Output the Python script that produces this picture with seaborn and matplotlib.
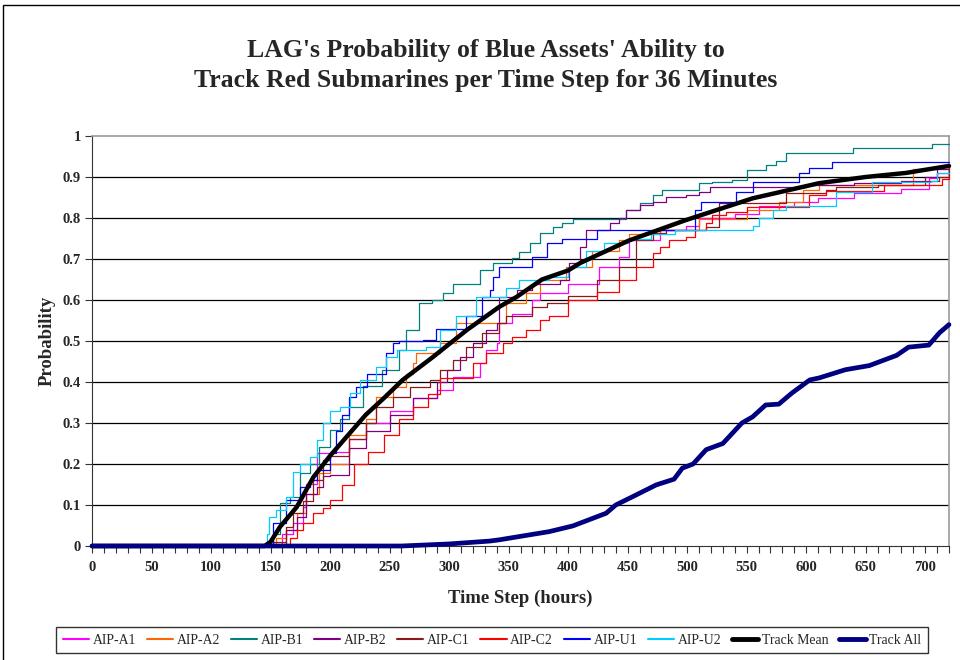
import matplotlib
matplotlib.use("Agg")
import matplotlib.pyplot as plt
from matplotlib.lines import Line2D
from matplotlib.patches import Rectangle
from matplotlib.ticker import MultipleLocator, FuncFormatter
import seaborn as sns
import pandas as pd

# ---- cumulative track probability per asset type (time step in hours) ----
a1_x = [0, 150, 160, 169, 177, 180, 189, 200, 216, 230, 250, 270, 290, 303, 326, 331, 340, 342, 353, 370,
        376, 400, 426, 443, 451, 477, 499, 510, 540, 560, 590, 610, 640, 680, 703, 710, 720]
a1_y = [0, 0, 0.03, 0.055, 0.095, 0.152, 0.226, 0.23, 0.26, 0.30, 0.33, 0.36, 0.38, 0.413, 0.446, 0.478, 0.495,
        0.543, 0.567, 0.60, 0.617, 0.64, 0.68, 0.705, 0.746, 0.771, 0.78, 0.80, 0.81, 0.83, 0.84, 0.85, 0.86,
        0.87, 0.897, 0.909, 0.909]

a2_x = [0, 152, 155, 163, 172, 180, 191, 200, 216, 230, 239, 253, 264, 270, 272, 292, 306, 342, 348, 365,
        376, 398, 420, 443, 451, 477, 510, 550, 577, 597, 611, 690, 720]
a2_y = [0, 0, 0.02, 0.04, 0.08, 0.128, 0.177, 0.2, 0.27, 0.31, 0.364, 0.389, 0.42, 0.446, 0.47, 0.495, 0.543,
        0.543, 0.592, 0.617, 0.649, 0.681, 0.72, 0.746, 0.76, 0.771, 0.797, 0.82, 0.839, 0.868, 0.88, 0.919,
        0.919]

b1_x = [0, 148, 152, 158, 166, 175, 183, 191, 200, 208, 216, 228, 244, 258, 264, 275, 286, 295, 303, 320,
        326, 337, 353, 359, 368, 376, 387, 395, 404, 443, 449, 460, 471, 479, 504, 510, 521, 538, 550, 566,
        575, 583, 639, 706, 720]
b1_y = [0, 0, 0.03, 0.105, 0.12, 0.177, 0.2, 0.242, 0.283, 0.31, 0.34, 0.39, 0.43, 0.478, 0.527, 0.592, 0.6,
        0.617, 0.64, 0.64, 0.673, 0.69, 0.703, 0.718, 0.738, 0.763, 0.778, 0.787, 0.797, 0.797, 0.819, 0.836,
        0.856, 0.868, 0.868, 0.885, 0.888, 0.893, 0.917, 0.929, 0.94, 0.958, 0.97, 0.98, 0.98]

b2_x = [0, 150, 163, 172, 180, 189, 194, 200, 216, 230, 250, 270, 290, 298, 309, 320, 331, 340, 342, 357,
        370, 393, 401, 410, 415, 435, 443, 449, 460, 471, 482, 499, 510, 519, 600, 640, 680, 700, 710, 720]
b2_y = [0, 0, 0.04, 0.07, 0.128, 0.145, 0.17, 0.173, 0.24, 0.28, 0.32, 0.36, 0.40, 0.43, 0.462, 0.495, 0.527,
        0.543, 0.608, 0.624, 0.64, 0.649, 0.69, 0.73, 0.771, 0.787, 0.8, 0.82, 0.832, 0.839, 0.852, 0.856,
        0.863, 0.876, 0.88, 0.885, 0.89, 0.9, 0.92, 0.93]

c1_x = [0, 150, 152, 163, 169, 177, 186, 194, 200, 216, 230, 239, 253, 267, 284, 292, 303, 314, 328, 342,
        348, 370, 382, 400, 424, 443, 457, 471, 482, 516, 527, 583, 617, 625, 660, 700, 712, 720]
c1_y = [0, 0, 0.01, 0.047, 0.08, 0.11, 0.16, 0.21, 0.22, 0.26, 0.30, 0.34, 0.364, 0.389, 0.405, 0.43, 0.454,
        0.486, 0.519, 0.543, 0.56, 0.583, 0.592, 0.61, 0.649, 0.681, 0.746, 0.763, 0.771, 0.779, 0.836, 0.86,
        0.868, 0.876, 0.88, 0.89, 0.9, 0.92]

c2_x = [0, 155, 166, 172, 177, 186, 194, 200, 210, 220, 232, 245, 258, 270, 282, 292, 314, 320, 331, 345,
        353, 365, 376, 384, 400, 424, 443, 457, 471, 477, 485, 499, 507, 516, 521, 533, 550, 602, 617, 665,
        714, 720]
c2_y = [0, 0, 0.02, 0.04, 0.055, 0.08, 0.092, 0.112, 0.15, 0.20, 0.23, 0.27, 0.31, 0.34, 0.37, 0.41, 0.41,
        0.446, 0.47, 0.495, 0.51, 0.527, 0.551, 0.56, 0.60, 0.62, 0.65, 0.68, 0.714, 0.73, 0.746, 0.754, 0.771,
        0.787, 0.807, 0.815, 0.827, 0.856, 0.867, 0.88, 0.895, 0.9]

u1_x = [0, 145, 152, 163, 175, 183, 189, 200, 205, 210, 216, 222, 231, 247, 253, 258, 278, 289, 300, 314,
        328, 334, 337, 342, 365, 370, 382, 395, 424, 504, 507, 512, 527, 541, 555, 580, 594, 602, 622, 720]
u1_y = [0, 0, 0.056, 0.112, 0.145, 0.16, 0.185, 0.226, 0.28, 0.32, 0.364, 0.389, 0.42, 0.47, 0.495, 0.5,
        0.502, 0.53, 0.53, 0.56, 0.608, 0.624, 0.657, 0.68, 0.68, 0.705, 0.738, 0.75, 0.771, 0.771, 0.819,
        0.838, 0.838, 0.863, 0.888, 0.888, 0.909, 0.922, 0.937, 0.937]

u2_x = [0, 145, 147, 149, 155, 163, 169, 175, 183, 189, 194, 200, 208, 217, 225, 239, 247, 256, 281, 292,
        306, 323, 348, 359, 384, 400, 415, 430, 450, 470, 490, 555, 560, 572, 583, 625, 655, 705, 710, 720]
u2_y = [0, 0, 0.03, 0.07, 0.088, 0.12, 0.18, 0.2, 0.218, 0.258, 0.3, 0.33, 0.34, 0.373, 0.405, 0.437, 0.462,
        0.478, 0.486, 0.527, 0.56, 0.608, 0.629, 0.649, 0.657, 0.68, 0.72, 0.74, 0.75, 0.76, 0.77, 0.78, 0.8,
        0.82, 0.83, 0.863, 0.888, 0.89, 0.91, 0.91]

mean_x = [0, 145, 150, 158, 172, 186, 200, 215, 230, 245, 261, 286, 315, 342, 357, 378, 400, 410, 451, 499,
          555, 611, 650, 684, 720]
mean_y = [0, 0, 0.01, 0.047, 0.095, 0.168, 0.22, 0.27, 0.32, 0.36, 0.405, 0.46, 0.527, 0.583, 0.608, 0.65,
          0.672, 0.69, 0.745, 0.795, 0.848, 0.885, 0.9, 0.91, 0.927]

all_x = [0, 260, 300, 334, 342, 384, 404, 432, 440, 454, 474, 489, 496, 505, 516, 530, 546, 555, 566, 577,
         588, 603, 611, 633, 653, 676, 686, 703, 712, 720]
all_y = [0, 0, 0.005, 0.012, 0.015, 0.035, 0.049, 0.08, 0.1, 0.12, 0.149, 0.163, 0.19, 0.2, 0.235, 0.25, 0.3,
         0.315, 0.344, 0.346, 0.373, 0.405, 0.41, 0.43, 0.44, 0.465, 0.485, 0.49, 0.52, 0.54]

series_names = ["AIP-A1", "AIP-A2", "AIP-B1", "AIP-B2", "AIP-C1", "AIP-C2", "AIP-U1", "AIP-U2",
                "Track Mean", "Track All"]
series_data = [(a1_x, a1_y), (a2_x, a2_y), (b1_x, b1_y), (b2_x, b2_y), (c1_x, c1_y), (c2_x, c2_y),
               (u1_x, u1_y), (u2_x, u2_y), (mean_x, mean_y), (all_x, all_y)]
series_colors = ["#FF00FF", "#FF6600", "#008080", "#800080", "#8B1A1A", "#FF0000", "#0000FF", "#00CCFF",
                 "#000000", "#000080"]
series_widths = [0.9, 0.9, 0.9, 0.9, 0.9, 0.9, 0.9, 0.9, 3.2, 3.4]
series_steps = [True] * 8 + [False, False]

frames = []
for name, (xs, ys) in zip(series_names, series_data):
    frames.append(pd.DataFrame({"step": xs, "prob": ys, "series": name}))
df = pd.concat(frames, ignore_index=True)

sns.set_style("white")
plt.rcParams["font.family"] = ["Liberation Serif", "DejaVu Serif"]

fig = plt.figure(figsize=(9.6, 6.6), dpi=100)
ax = fig.add_axes([92 / 960, 1 - 546 / 660, (949 - 92) / 960, (546 - 136) / 660])

# horizontal grid lines
for g in [0.1, 0.2, 0.3, 0.4, 0.5, 0.6, 0.7, 0.8, 0.9]:
    ax.axhline(g, color="black", lw=0.9, zorder=1)

for name, color, lw, step in zip(series_names, series_colors, series_widths, series_steps):
    sub = df[df["series"] == name]
    kw = {"drawstyle": "steps-post"} if step else {}
    sns.lineplot(data=sub, x="step", y="prob", ax=ax, color=color, linewidth=lw,
                 estimator=None, sort=False, legend=False, zorder=3, clip_on=False, **kw)

ax.set_xlim(0, 720)
ax.set_ylim(0, 1)
ax.xaxis.set_major_locator(MultipleLocator(50))
ax.xaxis.set_minor_locator(MultipleLocator(10))
ax.yaxis.set_major_locator(MultipleLocator(0.1))
ax.yaxis.set_major_formatter(FuncFormatter(
    lambda v, p: f"{int(round(v))}" if round(v, 3) in (0, 1) else f"{v:.1f}"))
ax.tick_params(axis="x", which="both", direction="out", length=5, width=0.8, color="#333333",
               bottom=True, labelsize=10.5, pad=6)
ax.tick_params(axis="y", which="major", direction="out", length=5, width=0.8, color="#333333",
               left=True, labelsize=10.5, pad=3)
for lab in ax.get_xticklabels() + ax.get_yticklabels():
    lab.set_fontweight("bold")

for side in ["top", "right"]:
    ax.spines[side].set_color("#999999")
    ax.spines[side].set_linewidth(1.2)
ax.spines["left"].set_color("#333333")
ax.spines["bottom"].set_color("#333333")

ax.set_xlabel("Time Step (hours)", fontsize=13.5, fontweight="bold", labelpad=11)
ax.set_ylabel("Probability", fontsize=13.5, fontweight="bold", labelpad=5)

fig.text(0.506, 0.901, "LAG's Probability of Blue Assets' Ability to\nTrack Red Submarines per Time Step for 36 Minutes",
         ha="center", va="center", fontsize=18.5, fontweight="bold", linespacing=1.42)

handles = [Line2D([0], [0], color=c, lw=(1.5 if w < 2 else 3.5)) for c, w in zip(series_colors, series_widths)]
leg = fig.legend(handles, series_names, loc="center", bbox_to_anchor=(492 / 960, 1 - 640 / 660), ncol=10,
                 frameon=True, fancybox=False, edgecolor="black", fontsize=9.9, handlelength=1.9,
                 handletextpad=0.25, columnspacing=0.8, borderpad=0.5)
leg.get_frame().set_linewidth(1.0)

# outer frame of the chart area
fig.patches.append(Rectangle((3 / 960, -0.05), 1.2, 1 - 5 / 660 + 0.05, transform=fig.transFigure,
                             fill=False, edgecolor="black", linewidth=1.0))

fig.savefig("out.png", dpi=100)
